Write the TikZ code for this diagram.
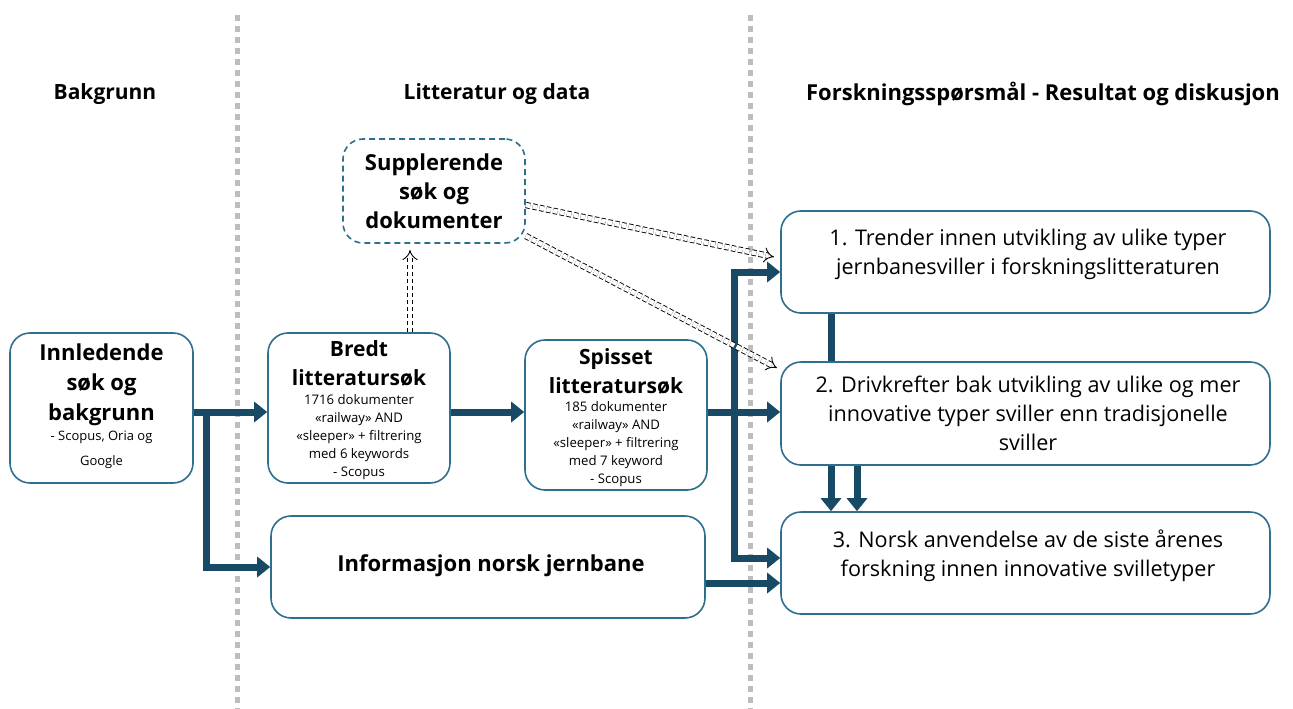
\documentclass[tikz,border=0pt]{standalone}
\usepackage{fontspec}
\setmainfont{Open Sans}
\usetikzlibrary{arrows.meta,backgrounds}
\definecolor{boxc}{HTML}{2E6E8E}
\definecolor{arrc}{HTML}{184A66}
\definecolor{dotc}{HTML}{BDBDBD}
\begin{document}
\begin{tikzpicture}[x=1pt,y=-1pt,
  box/.style={draw=boxc,line width=1.6pt,rounded corners=20pt,fill=white,inner sep=0pt},
  dbox/.style={box,dash pattern=on 6pt off 4pt},
  arr/.style={draw=arrc,line width=7pt,line cap=rect,line join=miter,-{Triangle[width=20pt,length=13pt]}},
  bar/.style={draw=arrc,line width=7pt},
  dbl/.style={draw=black,line width=0.9pt,double=white,double distance=4.5pt,dash pattern=on 4.5pt off 2.5pt,-{Implies}},
  sep/.style={draw=dotc,line width=5pt,dash pattern=on 6pt off 5pt},
  head/.style={font=\fontsize{21}{24}\selectfont\bfseries},
  ttl/.style={font=\fontsize{21}{29}\selectfont\bfseries,align=center},
  sml/.style={font=\fontsize{13.2}{17.8}\selectfont,align=center},
  qtxt/.style={font=\fontsize{21.6}{29}\selectfont,align=center}]
\useasboundingbox (0,0) rectangle (1293,709);
% headings
\node[head] (h1) at (105,94) {Bakgrunn};
\node[head] (h2) at (497,94) {Litteratur og data};
\node[head,font=\fontsize{22}{24}\selectfont\bfseries] (h3) at (1043,94) {Forskningsspørsmål - Resultat og diskusjon};
% boxes
\node[box,minimum width=183pt,minimum height=150pt] (inn) at (101.5,408) {};
\node[ttl,font=\fontsize{22}{30}\selectfont\bfseries] (innT) at (101.5,385) {Innledende\\søk og\\bakgrunn};
\node[sml,font=\fontsize{13}{25}\selectfont] (innS) at (101.5,450) {- Scopus, Oria og\\Google};
\node[box,minimum width=182pt,minimum height=150pt] (bredt) at (359,408) {};
\node[ttl] (bredtT) at (359,363.5) {Bredt\\litteratursøk};
\node[sml] (bredtS) at (359,437) {1716 dokumenter\\«railway» AND\\«sleeper» + filtrering\\med 6 keywords\\- Scopus};
\node[box,minimum width=182pt,minimum height=150pt] (spis) at (616,415) {};
\node[ttl] (spisT) at (616,371.5) {Spisset\\litteratursøk};
\node[sml] (spisS) at (616,444) {185 dokumenter\\«railway» AND\\«sleeper» + filtrering\\med 7 keyword\\- Scopus};
\node[dbox,minimum width=182pt,minimum height=104pt] (supp) at (434,191) {};
\node[ttl,font=\fontsize{22}{29}\selectfont\bfseries] (suppT) at (434,191) {Supplerende\\søk og\\dokumenter};
\node[box,minimum width=434pt,minimum height=102pt] (info) at (488,567) {};
\node[ttl,font=\fontsize{22}{29}\selectfont\bfseries] (infoT) at (491,566) {Informasjon norsk jernbane};
\node[box,minimum width=489pt,minimum height=102pt] (q1) at (1025.5,262) {};
\node[qtxt] (q1T) at (1028,254) {1. Trender innen utvikling av ulike typer\\jernbanesviller i forskningslitteraturen};
\node[box,minimum width=489pt,minimum height=103pt] (q2) at (1025.5,413.5) {};
\node[qtxt] (q2T) at (1028,413) {2. Drivkrefter bak utvikling av ulike og mer\\innovative typer sviller enn tradisjonelle\\sviller};
\node[box,minimum width=489pt,minimum height=102pt] (q3) at (1025.5,563) {};
\node[qtxt] (q3T) at (1028,556) {3. Norsk anvendelse av de siste årenes\\forskning innen innovative svilletyper};
% coordinates
\coordinate (s1t) at (237,15); \coordinate (s1b) at (237,709);
\coordinate (s2t) at (750,15); \coordinate (s2b) at (750,709);
\coordinate (j1) at (206,412);
\coordinate (v1) at (734,272);
\coordinate (v2) at (734,558);
\coordinate (y583) at (0,583);
\coordinate (c1) at (831,0);
\coordinate (c2) at (857,0);
\coordinate (d0) at (410,0);
\coordinate (dtop) at (410,250);
\coordinate (t1) at (774,257);
\coordinate (t2) at (777,368);
\begin{scope}[on background layer]
  \fill[white] (0,0) rectangle (1293,709);
  \draw[sep] (s1t) -- (s1b);
  \draw[sep] (s2t) -- (s2b);
  \draw[arr] ([yshift=-4pt]inn.east) -- ([yshift=-4pt]bredt.west);
  \draw[arr] (j1) |- (info.west);
  \draw[arr] (bredt.east |- j1) -- (spis.west |- j1);
  \draw[arr] (spis.east |- j1) -- (q2.west |- j1);
  \draw[arr] (v2) -- (v1) -- (q1.west |- v1);
  \draw[arr] (v2) -- (q3.west |- v2);
  \draw[arr] (info.east |- y583) -- (q3.west |- y583);
  \draw[bar] (q1.south -| c1) -- (q2.north -| c1);
  \draw[arr] (q2.south -| c1) -- (q3.north -| c1);
  \draw[arr] (q2.south -| c2) -- (q3.north -| c2);
\end{scope}
\draw[dbl] (bredt.north -| d0) -- (dtop);
\draw[dbl] ([yshift=-14pt]supp.east) -- (t1);
\draw[dbl] ([yshift=-45pt]supp.east) -- (t2);
\end{tikzpicture}
\end{document}
